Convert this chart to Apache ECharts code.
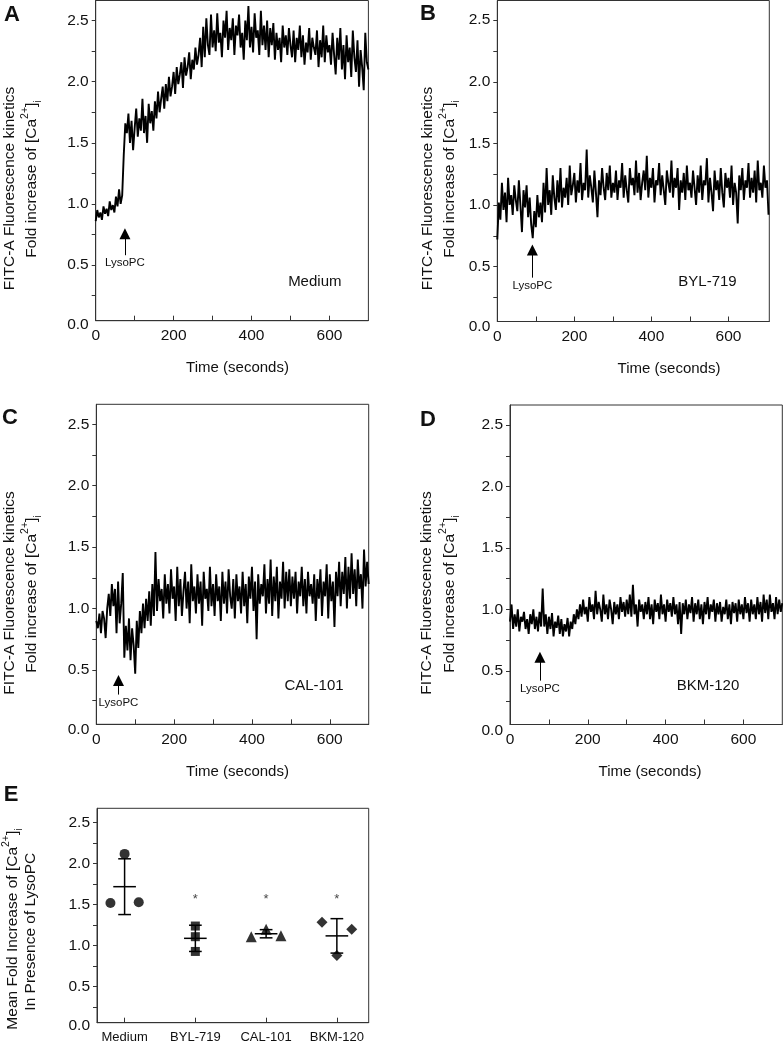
<!DOCTYPE html>
<html><head><meta charset="utf-8">
<script src="https://cdn.jsdelivr.net/npm/echarts@6/dist/echarts.min.js"></script>
<style>html,body{margin:0;padding:0;background:#fff}#c{width:783px;height:1046px}</style>
</head><body><div id="c"></div>
<script>
// ---------------- DATA ----------------
const timeStep = 4; // seconds between samples
const medium = [0.86,0.95,0.89,0.93,0.87,0.98,0.92,0.96,0.90,1.02,0.95,0.99,0.93,1.06,0.98,1.12,1.00,1.07,
1.40,1.66,1.58,1.74,1.50,1.68,1.44,1.62,1.78,1.55,1.70,1.60,1.86,1.58,1.72,1.50,1.82,1.66,1.76,1.60,
1.84,1.70,1.92,1.75,1.86,1.96,1.78,1.98,1.84,2.04,1.88,1.96,2.08,1.90,2.12,1.98,2.06,2.16,1.95,2.20,2.05,2.12,2.24,2.02,2.18,
2.10,2.28,2.14,2.22,2.36,2.12,2.45,2.20,2.52,2.30,2.22,2.55,
2.28,2.42,2.25,2.56,2.32,2.40,2.20,2.50,2.36,2.58,2.26,2.44,2.34,2.52,2.22,2.46,2.38,2.55,2.28,2.40,2.18,2.50,2.34,2.62,2.28,2.45,2.24,2.56,2.36,2.42,2.22,2.58,2.30,2.46,2.26,2.50,2.20,2.44,
2.30,2.48,2.18,2.40,2.26,2.36,2.16,2.46,2.28,2.38,2.22,2.44,2.30,2.20,2.42,2.16,2.36,2.26,2.46,2.20,2.38,2.14,2.32,2.24,2.44,2.18,2.36,2.28,2.22,2.42,2.12,2.34,2.20,2.46,2.16,2.38,2.24,2.30,
2.14,2.40,2.22,2.06,2.36,2.18,2.44,2.10,2.30,2.02,2.38,2.16,2.28,2.04,2.42,2.20,2.08,2.34,1.96,2.26,2.12,1.93,2.40,2.16,2.10];
const byl719 = [0.72,1.02,0.88,1.18,0.96,1.10,0.86,1.22,1.00,1.08,0.92,1.16,1.04,0.95,1.20,1.00,0.78,1.12,0.98,1.16,0.90,1.06,0.84,
0.73,0.95,0.82,1.08,0.90,1.02,0.86,1.18,0.94,1.30,1.00,1.12,0.92,1.24,1.06,0.96,1.20,1.02,1.30,0.98,1.14,1.06,
1.22,1.00,1.32,1.08,1.16,1.26,1.02,1.20,1.10,1.34,1.04,1.18,1.12,1.45,1.06,1.24,1.14,1.02,1.28,1.10,0.90,1.20,1.08,1.30,1.14,1.04,1.26,1.12,1.32,1.06,1.18,
1.10,1.28,1.04,1.20,1.14,1.34,1.06,1.24,1.12,1.02,1.30,1.16,1.22,1.08,1.36,1.10,1.26,1.04,1.18,1.28,1.12,1.40,1.06,1.22,1.14,1.30,1.02,1.20,1.16,1.34,1.08,1.24,1.12,1.00,1.28,1.18,1.10,1.36,1.06,1.22,1.14,1.30,0.96,1.20,1.10,1.26,1.04,1.32,1.12,1.18,
1.06,1.28,1.14,1.00,1.24,1.10,1.32,1.04,1.20,1.16,1.38,1.02,1.22,1.10,0.95,1.28,1.12,1.20,1.04,1.30,1.10,0.98,1.26,1.14,1.22,1.06,1.32,1.00,1.18,1.10,0.85,1.24,1.12,1.30,1.04,1.20,1.14,1.34,1.06,1.22,1.10,1.28,1.02,1.36,1.12,1.18,1.06,1.32,1.14,1.20,0.92];
const cal101 = [0.90,0.84,0.96,0.80,0.98,0.92,0.76,1.00,1.12,0.94,1.20,1.02,1.16,0.80,1.22,0.88,1.04,1.29,
0.60,0.86,0.66,0.92,0.58,0.84,0.70,0.47,0.90,0.68,0.98,0.80,1.04,0.84,1.08,0.90,1.14,0.86,1.20,0.94,
1.46,0.98,1.24,1.06,1.16,0.92,1.28,1.04,1.20,0.96,1.32,1.08,1.18,0.90,1.34,1.02,1.24,0.94,1.14,1.30,1.00,1.22,0.88,1.36,1.06,1.18,0.96,1.28,1.04,1.22,0.86,1.30,1.08,1.16,0.98,1.34,1.02,1.20,
0.94,1.28,1.06,1.18,0.90,1.30,1.04,1.22,0.96,1.32,1.10,1.00,1.24,0.92,1.28,1.06,1.18,0.96,1.30,1.02,1.20,0.88,1.26,1.08,1.34,0.98,1.22,0.75,1.28,1.04,1.20,1.10,1.36,0.96,1.24,1.04,1.40,0.94,1.26,1.06,1.34,0.92,1.22,1.08,1.38,1.00,1.30,1.06,1.32,1.02,
1.26,1.08,1.30,0.96,1.22,1.10,1.34,1.02,1.24,0.96,1.30,1.10,1.20,1.04,1.28,0.90,1.24,1.08,1.32,0.94,1.22,1.10,1.36,0.92,1.28,1.06,1.22,0.85,1.30,1.10,1.38,1.02,1.30,1.12,1.42,1.00,1.34,1.08,1.45,1.12,1.32,1.02,1.40,1.16,1.28,1.00,1.48,1.18,1.38,1.20];
const bkm120 = [0.90,1.04,0.84,0.96,0.86,1.00,0.82,0.94,0.90,0.98,0.84,0.92,0.80,0.96,0.88,1.00,0.84,0.94,0.82,0.98,0.86,
1.17,0.86,0.96,0.80,0.94,0.84,0.97,0.78,0.90,0.85,0.95,0.80,0.92,0.78,0.88,0.82,0.93,0.78,0.90,0.84,0.96,0.88,1.00,0.92,
1.04,0.94,1.08,0.96,1.02,0.90,1.10,0.98,1.04,0.92,1.15,0.96,1.06,1.00,0.90,1.12,0.96,1.04,0.92,1.08,1.00,0.88,1.06,0.96,1.04,0.92,1.10,0.98,1.06,0.94,1.08,
0.96,1.12,0.94,1.20,0.96,1.04,0.86,1.08,0.98,1.04,0.92,1.06,0.96,1.10,0.92,1.04,0.88,1.08,0.98,1.05,0.92,1.12,0.96,1.04,0.90,1.08,0.98,1.05,0.94,1.10,0.96,1.04,0.88,1.06,0.80,1.05,0.96,1.08,0.92,1.04,0.97,1.10,0.90,1.05,0.96,1.08,0.92,1.04,0.88,1.06,
0.96,1.10,0.92,1.04,0.98,1.08,0.90,1.05,0.96,1.06,0.90,1.02,0.96,1.08,0.92,1.04,0.88,1.06,0.97,1.05,0.90,1.08,0.96,1.04,0.92,1.10,0.97,1.05,0.90,1.08,0.96,1.04,0.92,1.10,0.96,1.06,0.90,1.12,0.97,1.08,0.92,1.12,0.98,1.05,0.92,1.10,0.96,1.08,0.98,1.05];

const xTickValues = [100,200,300,400,500,600];
const xLabelValues = [0,200,400,600];
const yTickValues = [0.25,0.5,0.75,1,1.25,1.5,1.75,2,2.25,2.5];
const yLabelValues = [0,0.5,1,1.5,2,2.5];

const treatments = ['Medium','BYL-719','CAL-101','BKM-120'];
const arrowTime = [75, 91, 57, 77];      // LysoPC addition (s)
const arrowHead = [0.755, 0.635, 0.415, 0.61];
const arrowBase = [0.58, 0.41, 0.30, 0.42];

const groupNames = ['Medium','BYL-719','CAL-101','BKM-120'];
const groupPoints = [[1.52,2.12,1.53],[1.24,1.11,0.93],[1.11,1.20,1.12],[1.285,0.88,1.20]];
const groupMean = [1.72,1.09,1.146,1.12];
const groupSD = [0.34,0.16,0.05,0.21];
const sigGroups = [2,3,4];
const sigLevel = 1.57;

// ---------------- LAYOUT / STYLE ----------------
const FONT = '"Liberation Sans", Arial, Helvetica, sans-serif';
const AX = '#333';
const jitter = [[-0.2,0,0.2],[0,0,0],[-0.21,0,0.21],[-0.21,0,0.21]];
const symbols = ['circle','rect','triangle','diamond'];
const symSizes = [10,9,11,11];
const gridBoxes = [
  {left:95.7, top:0.5, width:272.7, height:320.2},
  {left:497.3, top:0.5, width:272, height:321},
  {left:96.3, top:404.3, width:272.4, height:320},
  {left:510, top:405, width:272.3, height:319.5},
  {left:97, top:808.3, width:271.7, height:214.4}
];
const grid = gridBoxes.map(b => Object.assign({show:true, borderColor:AX, borderWidth:1, backgroundColor:'transparent',
  containLabel:false, outerBoundsMode:'none'}, b));

function timeX(gi, max){
  return {type:'value', gridIndex:gi, min:0, max:max,
    axisLine:{show:true, onZero:false, lineStyle:{color:AX, width:1}},
    axisTick:{show:true, inside:true, length:5, customValues:xTickValues, lineStyle:{color:AX, width:1}},
    axisLabel:{show:true, customValues:xLabelValues, margin:7, fontSize:15.5, color:'#111', fontFamily:FONT},
    splitLine:{show:false}};
}
function foldY(gi, min, max){
  return {type:'value', gridIndex:gi, min:min, max:max,
    axisLine:{show:true, onZero:false, lineStyle:{color:AX, width:1}},
    axisTick:{show:true, inside:false, length:4, customValues:yTickValues, lineStyle:{color:AX, width:1}},
    axisLabel:{show:true, customValues:yLabelValues, formatter:v => v.toFixed(1), margin:7, fontSize:15.5, color:'#111', fontFamily:FONT},
    splitLine:{show:false}};
}
const xAxis = [timeX(0,700), timeX(1,706), timeX(2,700), timeX(3,700),
  {type:'value', gridIndex:4, min:0.61, max:4.45,
   axisLine:{show:true, onZero:false, lineStyle:{color:AX}},
   axisTick:{show:true, inside:true, length:5, customValues:[1,2,3,4], lineStyle:{color:AX}},
   axisLabel:{show:true, customValues:[1,2,3,4], formatter:v => groupNames[Math.round(v)-1], margin:8, fontSize:13, color:'#111', fontFamily:FONT},
   splitLine:{show:false}}];
const yAxis = [foldY(0,0.044,2.665), foldY(1,0.054,2.66), foldY(2,0.058,2.663), foldY(3,0.063,2.663), foldY(4,0.061,2.676)];

const traces = [medium, byl719, cal101, bkm120];
const series = traces.map((arr, k) => ({
  type:'line', xAxisIndex:k, yAxisIndex:k, showSymbol:false, symbol:'none', clip:true,
  data: arr.map((v,i) => [i*timeStep, v]),
  lineStyle:{color:'#000', width:1.9}, z:2,
  markLine:{silent:true, animation:false, symbol:['none','triangle'], symbolSize:11,
    lineStyle:{color:'#000', width:1, type:'solid'},
    label:{show:true, position:'start', formatter:'LysoPC', fontSize:11.5, color:'#111', fontFamily:FONT, distance:2},
    data:[[{coord:[arrowTime[k], arrowBase[k]]},{coord:[arrowTime[k], arrowHead[k]]}]]}
}));

series.push({
  type:'custom', xAxisIndex:4, yAxisIndex:4, z:3,
  data: groupNames.map((_,i) => [i+1, groupMean[i], groupSD[i]]),
  encode:{x:0, y:1},
  renderItem:(params, api) => {
    const g = api.value(0), m = api.value(1), s = api.value(2);
    const p = api.coord([g,m]), pt = api.coord([g,m+s]), pb = api.coord([g,m-s]);
    const hw = api.size([0.16,0])[0], cw = api.size([0.09,0])[0];
    const st = {stroke:'#000', lineWidth:1.5};
    return {type:'group', children:[
      {type:'line', shape:{x1:p[0]-hw, y1:p[1], x2:p[0]+hw, y2:p[1]}, style:st},
      {type:'line', shape:{x1:pt[0], y1:pt[1], x2:pb[0], y2:pb[1]}, style:st},
      {type:'line', shape:{x1:pt[0]-cw, y1:pt[1], x2:pt[0]+cw, y2:pt[1]}, style:st},
      {type:'line', shape:{x1:pb[0]-cw, y1:pb[1], x2:pb[0]+cw, y2:pb[1]}, style:st}
    ]};
  }
});
groupPoints.forEach((pts, g) => {
  series.push({type:'scatter', xAxisIndex:4, yAxisIndex:4, z:4, symbol:symbols[g], symbolSize:symSizes[g],
    itemStyle:{color:'#000'}, data: pts.map((v,j) => [g+1+jitter[g][j], v])});
});
series.push({type:'scatter', xAxisIndex:4, yAxisIndex:4, symbolSize:0, z:5,
  data: sigGroups.map(g => [g, sigLevel]),
  label:{show:true, position:'inside', formatter:'*', fontSize:13, color:'#111', fontFamily:FONT}});

// ---------------- TEXT ----------------
const richY = {
  m:{fontSize:15.5, fontFamily:FONT, color:'#111', lineHeight:24},
  sup:{fontSize:10.5, fontFamily:FONT, color:'#111', verticalAlign:'top', lineHeight:24},
  sub:{fontSize:10.5, fontFamily:FONT, color:'#111', verticalAlign:'bottom', lineHeight:24}
};
function vtext(x, y, text){
  return {type:'text', x:x, y:y, rotation:Math.PI/2, z:10,
    style:{text:text, rich:richY, font:'15.5px '+FONT, fill:'#111', align:'center', verticalAlign:'middle'}};
}
function htext(x, y, text, size, bold, align){
  return {type:'text', x:x, y:y, z:10,
    style:{text:text, font:(bold?'bold ':'')+size+'px '+FONT, fill:'#111', align:align||'center', verticalAlign:'middle'}};
}
const L1 = '{m|FITC-A Fluorescence kinetics}';
const L2 = '{m|Fold increase of [Ca}{sup|2+}{m|]}{sub|i}';
const graphic = [
  htext(12,15,'A',22,true), htext(428,14,'B',22,true), htext(10,418,'C',22,true), htext(428,420,'D',22,true), htext(11,795,'E',22,true),
  vtext(10,188.5,L1), vtext(32,179,L2),
  vtext(427.5,188.5,L1), vtext(450,179,L2),
  vtext(10,593,L1), vtext(32,594,L2),
  vtext(426.7,593,L1), vtext(450,594,L2),
  vtext(13,929,'{m|Mean Fold Increase of [Ca}{sup|2+}{m|]}{sub|i}'),
  vtext(31,931.7,'{m|In Presence of LysoPC}'),
  htext(237.5,368,'Time (seconds)',15),
  htext(669,369.3,'Time (seconds)',15),
  htext(237.5,771.7,'Time (seconds)',15),
  htext(650,772,'Time (seconds)',15),
  htext(314.8,282.3,treatments[0],15),
  htext(707.5,282.3,treatments[1],15),
  htext(314,686,treatments[2],15),
  htext(708,686,treatments[3],15)
];

const chart = echarts.init(document.getElementById('c'), null, {renderer:'canvas'});
chart.setOption({animation:false, backgroundColor:'#fff', grid:grid, xAxis:xAxis, yAxis:yAxis, series:series, graphic:graphic});
// "0.0" tick labels sit just below each panel's axis minimum
for (let k = 0; k < 5; k++) {
  const y0 = chart.convertToPixel({yAxisIndex:k}, 0);
  graphic.push(htext(gridBoxes[k].left - 7, y0 - 1.5, (0).toFixed(1), 15.5, false, 'right'));
}
chart.setOption({graphic:graphic});
</script></body></html>
